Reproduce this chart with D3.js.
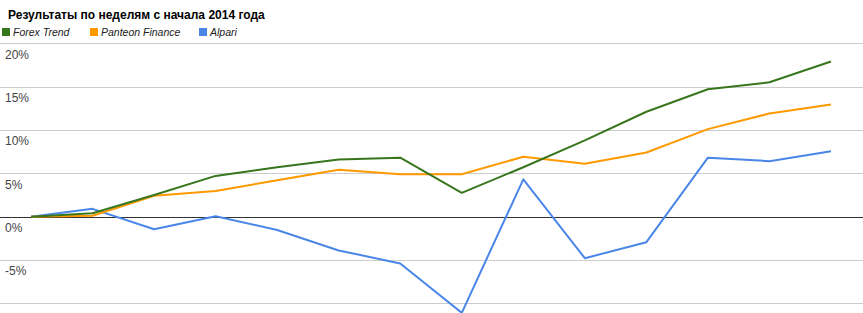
<!DOCTYPE html>
<html><head><meta charset="utf-8">
<script src="https://cdn.jsdelivr.net/npm/d3@7"></script>
<style>body{margin:0;background:#fff}svg{display:block}</style>
</head><body>
<svg id="c" width="863" height="313"></svg>
<script>
const weeks = [1,2,3,4,5,6,7,8,9,10,11,12,13,14];
const forexTrend = [0, 0.4, 2.5, 4.7, 5.7, 6.6, 6.8, 2.75, 5.7, 8.8, 12.1, 14.7, 15.5, 17.9];
const panteonFinance = [0, 0.1, 2.4, 2.95, 4.2, 5.4, 4.9, 4.9, 6.9, 6.1, 7.4, 10.1, 11.9, 12.95];
const alpari = [0, 0.9, -1.45, 0.05, -1.55, -3.9, -5.4, -11.1, 4.3, -4.8, -2.95, 6.8, 6.4, 7.55];
const yTicks = [-10, -5, 0, 5, 10, 15, 20];
const yLabels = ["", "-5%", "0%", "5%", "10%", "15%", "20%"];
const title = "Результаты по неделям с начала 2014 года";
const seriesNames = ["Forex Trend", "Panteon Finance", "Alpari"];
const colors = ["#38761d", "#ff9900", "#4a86e8"];

const W = 863, H = 313;
const svg = d3.select("#c");
const x = d3.scalePoint().domain(weeks).range([31, 831]);
const y = d3.scaleLinear().domain([-10, 20]).range([303.3, 43.3]);

const font = "'Liberation Sans', Arial, sans-serif";

const ax = svg.append("g")
  .call(d3.axisRight(y).tickValues(yTicks).tickSize(W).tickFormat((d, i) => yLabels[i]));
ax.select(".domain").remove();
ax.selectAll(".tick line").attr("stroke", d => d === 0 ? "#333" : "#ccc").attr("stroke-width", 1)
  .attr("shape-rendering", "crispEdges");
ax.selectAll(".tick text").attr("x", 5).attr("dy", 15).attr("text-anchor", "start")
  .attr("fill", "#444").style("font-family", font).style("font-size", "12px");
ax.selectAll(".tick").filter(d => d === 0).raise();

const data = [forexTrend, panteonFinance, alpari];
const line = d3.line().x((d, i) => x(weeks[i])).y(d => y(d));
[2, 1, 0].forEach(k => {
  svg.append("path").datum(data[k]).attr("d", line).attr("fill", "none")
    .attr("stroke", colors[k]).attr("stroke-width", 2).attr("stroke-linejoin", "round");
});

svg.append("text").attr("x", 8).attr("y", 19).text(title)
  .style("font-family", font).style("font-size", "12px").style("font-weight", "bold").attr("fill", "#000");

const legX = [2, 90, 199];
seriesNames.forEach((n, i) => {
  const g = svg.append("g").attr("transform", `translate(${legX[i]},28)`);
  g.append("rect").attr("width", 8).attr("height", 8).attr("fill", colors[i]);
  g.append("text").attr("x", 11).attr("y", 8).text(n)
    .style("font-family", font).style("font-size", "10.5px").style("font-style", "italic").attr("fill", "#222");
});
</script>
</body></html>
